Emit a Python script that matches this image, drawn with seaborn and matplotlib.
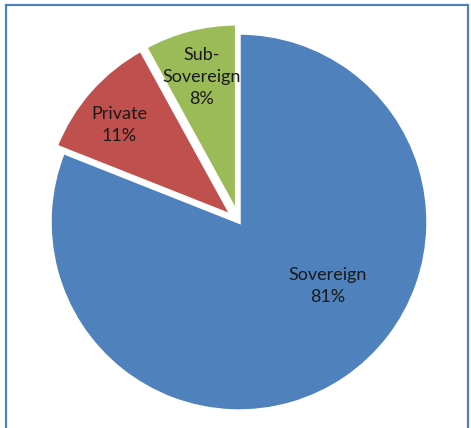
import matplotlib
matplotlib.use("Agg")
import matplotlib.pyplot as plt
import seaborn as sns
from matplotlib.patches import Rectangle

sns.set_theme(style="white")
plt.rcParams["font.family"] = ["Lato", "DejaVu Sans"]

# Data
categories = ["Sovereign", "Private", "Sub-\nSovereign"]
shares = [81, 11, 8]
explode = [0.0, 0.05, 0.05]
colors = ["#4F81BD", "#C0504D", "#9BBB59"]

fig = plt.figure(figsize=(4.71, 4.28), dpi=100)
ax = fig.add_axes([0, 0, 1, 1])

r_px = 189
cx, cy = 239, 222

labels = [f"{c}\n{s}%" for c, s in zip(categories, shares)]

wedges, texts = ax.pie(
    shares,
    labels=labels,
    colors=colors,
    explode=explode,
    startangle=90,
    counterclock=False,
    labeldistance=0.8,
    wedgeprops=dict(edgecolor="white", linewidth=2.5),
    textprops=dict(fontsize=13, color="#1a1a1a", linespacing=1.45),
)
for t in texts:
    t.set_horizontalalignment("center")
    t.set_verticalalignment("center")

# pull the small-slice labels in a bit, Excel style
for t, f, dx, dy in zip(texts[1:], [0.94, 0.93], [-0.035, 0.0], [-0.015, 0.0]):
    x, y = t.get_position()
    t.set_position((x * f + dx, y * f + dy))

# Excel puts the big slice label off its bisector
texts[0].set_position((0.47, -0.34))

ax.set_xlim(-cx / r_px, (471 - cx) / r_px)
ax.set_ylim(-(428 - cy) / r_px, cy / r_px)
ax.set_aspect("auto")
ax.axis("off")

# Chart border
fig.patches.append(Rectangle((5.5 / 471, -0.05), (468 - 5.5) / 471, 1.05 - 4.5 / 428,
                             transform=fig.transFigure, fill=False,
                             edgecolor="#4F81BD", linewidth=1.6))

fig.savefig("out.png", dpi=100)
